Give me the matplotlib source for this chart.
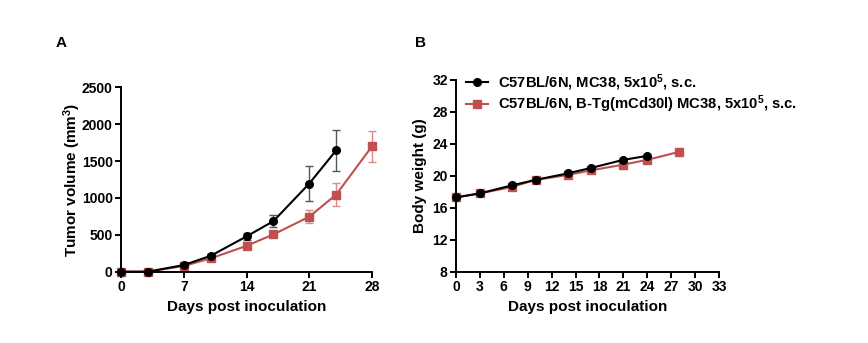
import matplotlib
matplotlib.use("Agg")
import matplotlib.pyplot as plt

plt.rcParams['font.family'] = ['Liberation Sans', 'DejaVu Sans']
plt.rcParams['font.weight'] = 'bold'
plt.rcParams['mathtext.fontset'] = 'custom'
plt.rcParams['mathtext.rm'] = 'Liberation Sans:bold'
plt.rcParams['mathtext.bf'] = 'Liberation Sans:bold'
plt.rcParams['mathtext.default'] = 'bf'

# Tumor volume (mm^3)
days_wt = [0, 3, 7, 10, 14, 17, 21, 24]
vol_wt = [0, 0, 90, 215, 478, 685, 1195, 1645]
vol_wt_err = [0, 0, 20, 22, 50, 85, 235, 280]

days_tg = [0, 3, 7, 10, 14, 17, 21, 24, 28]
vol_tg = [0, 0, 77, 180, 350, 505, 745, 1045, 1700]
vol_tg_err = [0, 0, 12, 18, 25, 30, 85, 155, 210]

# Body weight (g)
bw_wt = [17.3, 17.8, 18.8, 19.5, 20.3, 21.0, 22.0, 22.5]
bw_tg = [17.3, 17.8, 18.6, 19.5, 20.1, 20.7, 21.4, 22.0, 23.0]

label_wt = "C57BL/6N, MC38, 5x10$^{5}$, s.c."
label_tg = "C57BL/6N, B-Tg(mCd30l) MC38, 5x10$^{5}$, s.c."

RED = '#C0504D'
BLACK = '#000000'

fig = plt.figure(figsize=(8.68, 3.43), dpi=100)
axA = fig.add_axes([0.1394, 0.2079, 0.2892, 0.5376])
axB = fig.add_axes([0.5253, 0.2079, 0.3030, 0.5589])


def style(ax):
    for s in ('top', 'right'):
        ax.spines[s].set_visible(False)
    for s in ('left', 'bottom'):
        ax.spines[s].set_linewidth(1.4)
    ax.tick_params(direction='out', length=4, width=1.4, labelsize=10, pad=2)
    for lab in ax.get_xticklabels() + ax.get_yticklabels():
        lab.set_fontweight('bold')


# Panel A: tumor growth
axA.errorbar(days_wt, vol_wt, yerr=vol_wt_err, color=BLACK, marker='o', ms=5.5,
             lw=1.5, ecolor='#555555', elinewidth=1.0, capsize=3, capthick=1.0,
             clip_on=False, zorder=3)
axA.errorbar(days_tg, vol_tg, yerr=vol_tg_err, color=RED, marker='s', ms=5.5,
             lw=1.5, ecolor='#D98C8A', elinewidth=1.0, capsize=3, capthick=1.0,
             clip_on=False, zorder=2)
axA.set_xlim(0, 28)
axA.set_ylim(0, 2500)
axA.set_xticks([0, 7, 14, 21, 28])
axA.set_yticks([0, 500, 1000, 1500, 2000, 2500])
style(axA)
axA.set_xlabel('Days post inoculation', fontsize=11, fontweight='bold', labelpad=4)
axA.set_ylabel('Tumor volume (mm$^{3}$)', fontsize=11, fontweight='bold', labelpad=-1)

# Panel B: body weight
axB.plot(days_wt, bw_wt, color=BLACK, marker='o', ms=5.5, lw=1.5,
         clip_on=False, zorder=3, label=label_wt)
axB.plot(days_tg, bw_tg, color=RED, marker='s', ms=5.5, lw=1.5,
         clip_on=False, zorder=2, label=label_tg)
axB.set_xlim(0, 33)
axB.set_ylim(8, 32)
axB.set_xticks(list(range(0, 34, 3)))
axB.set_yticks([8, 12, 16, 20, 24, 28, 32])
style(axB)
axB.set_xlabel('Days post inoculation', fontsize=11, fontweight='bold', labelpad=4)
axB.set_ylabel('Body weight (g)', fontsize=11, fontweight='bold', labelpad=4)
leg = axB.legend(loc='upper left', bbox_to_anchor=(0.0, 1.095), frameon=False,
                 prop={'size': 10.6, 'weight': 'bold'}, handlelength=1.5,
                 handletextpad=0.65, labelspacing=0.08, borderaxespad=0.3)

fig.text(0.064, 0.862, 'A', fontsize=11, fontweight='bold')
fig.text(0.478, 0.862, 'B', fontsize=11, fontweight='bold')

fig.savefig('out.png', dpi=100)
